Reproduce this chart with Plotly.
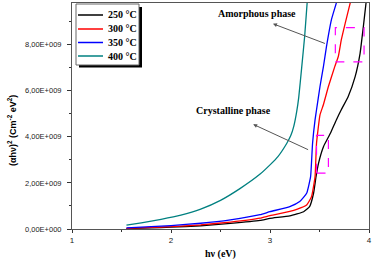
import plotly.graph_objects as go

# ---- data (y values in units of 1e9) ----
series_names = ["250 °C", "300 °C", "350 °C", "400 °C"]
series_colors = ["#000000", "#ff0000", "#0000ff", "#008080"]

x_250 = [1.55, 1.8, 2.0, 2.3, 2.6, 2.9, 3.0, 3.2, 3.34, 3.40, 3.44, 3.465, 3.49, 3.54, 3.61, 3.67, 3.72, 3.79, 3.86, 3.91, 3.943, 3.97, 4.0]
y_250 = [0.02, 0.05, 0.08, 0.14, 0.24, 0.37, 0.46, 0.57, 0.75, 0.97, 1.55, 2.27, 2.85, 3.57, 4.15, 4.73, 5.17, 5.75, 6.61, 7.62, 8.78, 9.8, 10.6]

x_300 = [1.55, 1.8, 2.0, 2.3, 2.6, 2.9, 3.0, 3.2, 3.27, 3.37, 3.42, 3.455, 3.47, 3.505, 3.54, 3.59, 3.655, 3.69, 3.72, 3.76, 3.81, 3.84]
y_300 = [0.03, 0.07, 0.1, 0.18, 0.3, 0.47, 0.58, 0.76, 0.85, 1.04, 1.41, 2.27, 3.72, 4.95, 5.4, 6.18, 7.05, 7.48, 8.2, 8.93, 9.8, 10.3]

x_350 = [1.55, 1.8, 2.0, 2.3, 2.6, 2.9, 3.0, 3.2, 3.30, 3.37, 3.41, 3.43, 3.455, 3.47, 3.505, 3.54, 3.57, 3.62, 3.67, 3.7]
y_350 = [0.05, 0.1, 0.15, 0.25, 0.4, 0.62, 0.75, 0.97, 1.19, 1.55, 2.27, 3.72, 4.73, 5.17, 6.18, 7.05, 7.9, 9.07, 9.8, 10.3]

x_400 = [1.55, 1.7, 1.9, 2.1, 2.3, 2.5, 2.7, 2.9, 3.0, 3.08, 3.17, 3.21, 3.24, 3.27, 3.29, 3.32, 3.35, 3.375, 3.395]
y_400 = [0.17, 0.27, 0.42, 0.6, 0.86, 1.24, 1.76, 2.38, 2.78, 3.14, 3.72, 4.05, 4.45, 5.1, 5.7, 7.0, 8.35, 9.8, 10.8]

y_tick_vals = [0, 2e9, 4e9, 6e9, 8e9]
y_tick_text = ["0,00E+000", "2,00E+009", "4,00E+009", "6,00E+009", "8,00E+009"]
x_tick_vals = [1, 2, 3, 4]
x_tick_text = ["1", "2", "3", "4"]

SCALE = 1e9
xs = [x_250, x_300, x_350, x_400]
ys = [y_250, y_300, y_350, y_400]

fig = go.Figure()
for name, col, xv, yv in zip(series_names, series_colors, xs, ys):
    fig.add_trace(go.Scatter(
        x=xv, y=[v * SCALE for v in yv], mode="lines", name=name,
        line=dict(color=col, width=1.3, shape="spline", smoothing=0.4),
        showlegend=False,
    ))

serif = "Liberation Serif"
sans = "Liberation Sans"

# plot area in pixels: x 72..369, y 3..229
def px(xp):
    return (xp - 72) / 297.0

def py(yp):
    return (229 - yp) / 226.0

# manual legend: shadow, box, samples, labels
fig.add_shape(type="rect", xref="paper", yref="paper",
              x0=px(79), x1=px(142), y0=py(67.5), y1=py(7),
              fillcolor="black", line=dict(width=0), layer="above")
fig.add_shape(type="rect", xref="paper", yref="paper",
              x0=px(76), x1=px(139), y0=py(65), y1=py(4),
              fillcolor="white", line=dict(color="#666666", width=1), layer="above")
legend_rows = [15, 29, 42.5, 56]
for name, col, ry in zip(series_names, series_colors, legend_rows):
    fig.add_shape(type="line", xref="paper", yref="paper",
                  x0=px(78), x1=px(103), y0=py(ry), y1=py(ry),
                  line=dict(color=col, width=1.5), layer="above")
    fig.add_annotation(xref="paper", yref="paper", x=px(106), y=py(ry),
                       xanchor="left", yanchor="middle", text="<b>" + name + "</b>",
                       showarrow=False, font=dict(family=serif, size=10, color="black"))

# dashed boxes
fig.add_shape(type="rect", x0=3.66, x1=3.95, y0=7.25e9, y1=8.73e9,
              line=dict(color="#ff00ff", width=1.2, dash="dash"))
fig.add_shape(type="rect", x0=3.47, x1=3.59, y0=2.42e9, y1=4.06e9,
              line=dict(color="#ff00ff", width=1.2, dash="dash"))

fig.add_annotation(x=2.87, y=9.33e9, text="<b>Amorphous phase</b>", showarrow=False,
                   font=dict(family=serif, size=10, color="black"))
fig.add_annotation(x=3.03, y=8.9e9, ax=3.57, ay=8.02e9, axref="x", ayref="y",
                   text="", showarrow=True, arrowhead=2, arrowsize=0.8,
                   arrowwidth=1, arrowcolor="#555555")
fig.add_annotation(x=2.636, y=5.13e9, text="<b>Crystalline phase</b>", showarrow=False,
                   font=dict(family=serif, size=10, color="black"))
fig.add_annotation(x=2.83, y=4.54e9, ax=3.40, ay=3.41e9, axref="x", ayref="y",
                   text="", showarrow=True, arrowhead=2, arrowsize=0.8,
                   arrowwidth=1, arrowcolor="#555555")

fig.add_annotation(xref="paper", yref="paper", x=px(12), y=py(131),
                   xanchor="center", yanchor="middle",
                   text="<b>(αhν)<sup>2</sup> (Cm<sup>-2</sup> eV<sup>2</sup>)</b>",
                   textangle=-90, showarrow=False,
                   font=dict(family=sans, size=9, color="black"))

fig.update_layout(
    width=377, height=261,
    margin=dict(l=72, r=8, t=3, b=32),
    paper_bgcolor="white", plot_bgcolor="white",
    showlegend=False,
    xaxis=dict(range=[1, 4], tickvals=x_tick_vals, ticktext=x_tick_text,
               ticks="outside", ticklen=3, tickcolor="#333",
               minor=dict(ticks="outside", ticklen=2, dtick=0.5, tickcolor="#333"),
               showgrid=False, zeroline=False, showline=True, linecolor="#555555",
               linewidth=1, mirror=True,
               tickfont=dict(family=sans, size=8, color="#222"),
               title=dict(text="<b>hν (eV)</b>", font=dict(family=serif, size=10, color="black"),
                          standoff=6)),
    yaxis=dict(range=[0, 9.8e9], tickvals=y_tick_vals, ticktext=y_tick_text,
               ticks="outside", ticklen=4, tickcolor="#333", ticklabelstandoff=4,
               minor=dict(ticks="outside", ticklen=2, dtick=1e9, tickcolor="#333"),
               showgrid=False, zeroline=False, showline=True, linecolor="#555555",
               linewidth=1, mirror=True,
               tickfont=dict(family=sans, size=7.5, color="#222")),
)

fig.write_html("out.html", config={"displayModeBar": False},
               post_script="document.body.style.margin='0';document.body.style.padding='0';")
